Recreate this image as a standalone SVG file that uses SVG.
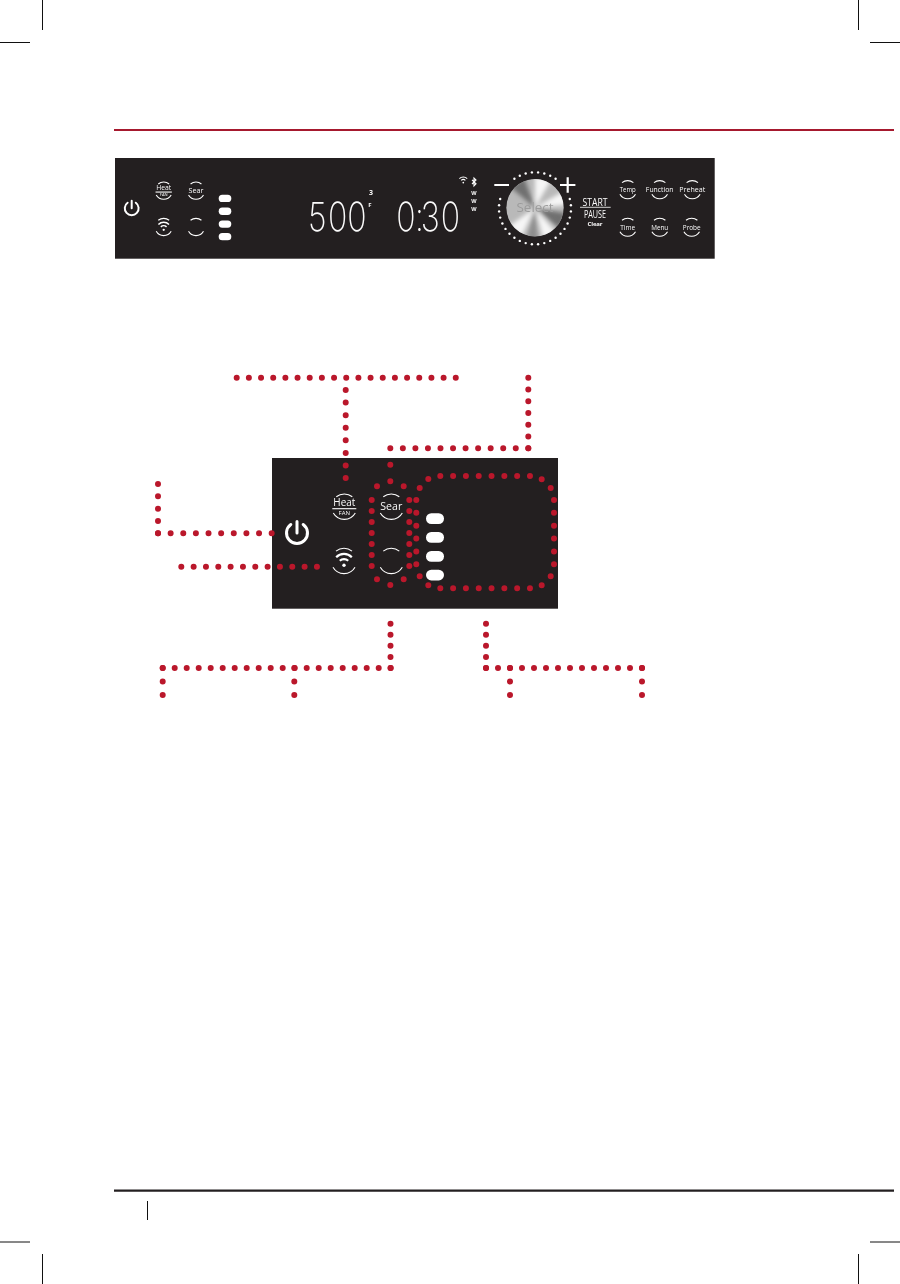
<svg xmlns="http://www.w3.org/2000/svg" width="900" height="1284" viewBox="0 0 900 1284">
<style>
text{font-family:"Open Sans","Liberation Sans",sans-serif;fill:#fff;text-anchor:middle;opacity:.98}
.crop{stroke:#111;stroke-width:1;fill:none}
.a{fill:none;stroke:#fff;stroke-width:1.1;vector-effect:non-scaling-stroke}
.w{fill:none;stroke:#fff;stroke-width:2.2}
.p{fill:#231f20}
.dot{fill:none;stroke:#ba172b;stroke-width:6;stroke-linecap:round}
.r{fill:#fff}
.pw{fill:none;stroke:#fff;stroke-width:3;stroke-linecap:round}
.seg{font-family:Inter,"Liberation Sans",sans-serif;font-weight:200;font-size:40px;text-anchor:start}
</style>
<defs>
<g id="arcs"><path class="a" d="M-8-9.9A12.7 12.7 0 0 1 8-9.9M-11 6.3A12.7 12.7 0 0 0 11 6.3"/></g>
<g id="wifi"><path class="w" d="M-4.2-.2A6 6 0 0 1 4.2-.2M-7.8-3.8A11 11 0 0 1 7.8-3.8"/><circle class="r" cy="4.2" r="1.7"/></g>
<g id="power"><path class="pw" d="M0-11.5V0M-6.2-8.5A10.5 10.5 0 1 0 6.2-8.5"/></g>
<clipPath id="kc"><circle r="28.7"/></clipPath>
<filter id="bl" x="-30%" y="-30%" width="160%" height="160%"><feGaussianBlur stdDeviation="2.2"/></filter>
</defs>
<rect width="900" height="1284" fill="#fff"/>
<g id="page-marks">
<path class="crop" d="M42.5 0V30M0 42.5H30M858.5 0V30M870 42.5H900M0 1242H30M42.5 1254V1284M870 1242H900M858.5 1254V1284M147.5 1201V1220"/>
<path d="M114 130H894" stroke="#a6192e" stroke-width="2.2"/>
<path d="M114 1190.7H894" stroke="#231f20" stroke-width="2.2"/>
</g>
<g id="panel-full">
<rect class="p" x="115" y="158" width="599.7" height="100.7"/>
<g id="s-power" transform="translate(131.7 208.3) scale(.66)"><use href="#power"/></g>
<g id="s-heat" transform="translate(163.7 190.7) scale(.68)"><use href="#arcs"/><text y="-1" font-size="10.5" textLength="22" lengthAdjust="spacingAndGlyphs">Heat</text><path class="a" d="M-12 2H12"/><text y="8.5" font-size="6">FAN</text></g>
<g id="s-sear" transform="translate(196 190.7) scale(.68)"><use href="#arcs"/><text y="3.5" font-size="11.5" textLength="22" lengthAdjust="spacingAndGlyphs">Sear</text></g>
<g id="s-wifi" transform="translate(163.7 227) scale(.68)"><use href="#arcs"/><use href="#wifi"/></g>
<g id="s-blank" transform="translate(196 227) scale(.68)"><use href="#arcs"/></g>
<g id="s-pills">
<rect class="r" x="218.7" y="194.7" width="12.6" height="7.3" rx="3.6"/>
<rect class="r" x="218.7" y="207.6" width="12.6" height="7.3" rx="3.6"/>
<rect class="r" x="218.7" y="220.4" width="12.6" height="7.3" rx="3.6"/>
<rect class="r" x="218.7" y="233" width="12.6" height="7.3" rx="3.6"/>
</g>
<g id="display">
<text class="seg" transform="translate(0 230.7) scale(.8 1)" x="385 410 434">500</text>
<text x="370" y="207" font-size="6" font-weight="700">F</text>
<text x="371" y="195.4" font-size="7" font-weight="700">3</text>
<text class="seg" transform="translate(0 230.7) scale(.8 1)" x="495.4 518.7 525.9 551">0:30</text>
</g>
<g id="status">
<g transform="translate(463.3 180.5) scale(.5)"><use href="#wifi"/></g>
<path d="M472 179.8L476 183.8 474 185.8V178L476 180 472 184" fill="none" stroke="#fff" stroke-width="1.1"/>
<text x="474" y="194.6" font-size="5.5" font-weight="700">W</text>
<text x="474" y="202.6" font-size="5.5" font-weight="700">W</text>
<text x="474" y="211.2" font-size="5.5" font-weight="700">W</text>
</g>
<g id="dial">
<path d="M494.3 185H509M560 185H575.4M567.7 177.3V192.7" stroke="#fff" stroke-width="2.2" fill="none"/>
<g transform="translate(535 208.3)" class="r">
<circle cx="3.1" cy="-35.9" r="1.2"/><circle cx="9.3" cy="-34.8" r="1.2"/><circle cx="15.2" cy="-32.6" r="1.2"/><circle cx="20.6" cy="-29.5" r="1.2"/>
<circle cx="-3.1" cy="-35.9" r="1.2"/><circle cx="-9.3" cy="-34.8" r="1.2"/><circle cx="-15.2" cy="-32.6" r="1.2"/><circle cx="-20.6" cy="-29.5" r="1.2"/>
<circle cx="34.8" cy="-9.3" r="1.2"/><circle cx="35.9" cy="-3.1" r="1.2"/><circle cx="35.9" cy="3.1" r="1.2"/><circle cx="34.8" cy="9.3" r="1.2"/><circle cx="32.6" cy="15.2" r="1.2"/><circle cx="29.5" cy="20.6" r="1.2"/><circle cx="25.5" cy="25.5" r="1.2"/><circle cx="20.6" cy="29.5" r="1.2"/><circle cx="15.2" cy="32.6" r="1.2"/><circle cx="9.3" cy="34.8" r="1.2"/><circle cx="3.1" cy="35.9" r="1.2"/>
<circle cx="-34.8" cy="-9.3" r="1.2"/><circle cx="-35.9" cy="-3.1" r="1.2"/><circle cx="-35.9" cy="3.1" r="1.2"/><circle cx="-34.8" cy="9.3" r="1.2"/><circle cx="-32.6" cy="15.2" r="1.2"/><circle cx="-29.5" cy="20.6" r="1.2"/><circle cx="-25.5" cy="25.5" r="1.2"/><circle cx="-20.6" cy="29.5" r="1.2"/><circle cx="-15.2" cy="32.6" r="1.2"/><circle cx="-9.3" cy="34.8" r="1.2"/><circle cx="-3.1" cy="35.9" r="1.2"/>
</g>
<g transform="translate(535 207.8)">
<g clip-path="url(#kc)">
<circle r="29" fill="#b9b9b9"/>
<g filter="url(#bl)">
<path fill="#f6f6f6" d="M0 0L0-32 16-27.7ZM0 0L27.7-16 31.9-2.8ZM0 0L20.6 24.5 8.3 30.9ZM0 0L-13.5 29-26.2 18.4Z"/>
<path fill="#6f6f6f" d="M0 0L31.5 5.6 24.5 20.6ZM0 0L-24.5-20.6-10.9-30.1Z"/>
<path fill="#8d8d8d" d="M0 0L2.8 31.9-8.3 30.9Z"/>
</g>
</g>
<text y="4.5" font-size="13" textLength="37" lengthAdjust="spacingAndGlyphs" style="fill:#9c9c9c">Select</text>
</g>
</g>
<g id="start-pause">
<text x="595" y="205.7" font-size="11.5" textLength="25" lengthAdjust="spacingAndGlyphs">START</text>
<path d="M580 207.3H610.7" stroke="#fff" stroke-width=".8"/>
<text x="595" y="217.5" font-size="10.5" textLength="22" lengthAdjust="spacingAndGlyphs">PAUSE</text>
<text x="595" y="226" font-size="6" font-weight="700" textLength="15">Clear</text>
</g>
<g id="s-temp" transform="translate(627.7 189.7) scale(.71)"><use href="#arcs"/><text y="3.5" font-size="11" textLength="22.5" lengthAdjust="spacingAndGlyphs">Temp</text></g>
<g id="s-function" transform="translate(659.7 189.7) scale(.71)"><use href="#arcs"/><text y="3.5" font-size="11" textLength="39" lengthAdjust="spacingAndGlyphs">Function</text></g>
<g id="s-preheat" transform="translate(692.3 189.7) scale(.71)"><use href="#arcs"/><text y="3.5" font-size="11" textLength="36.6" lengthAdjust="spacingAndGlyphs">Preheat</text></g>
<g id="s-time" transform="translate(627.7 227.3) scale(.71)"><use href="#arcs"/><text y="3.5" font-size="11" textLength="21" lengthAdjust="spacingAndGlyphs">Time</text></g>
<g id="s-menu" transform="translate(659.7 227.3) scale(.71)"><use href="#arcs"/><text y="3.5" font-size="11" textLength="24" lengthAdjust="spacingAndGlyphs">Menu</text></g>
<g id="s-probe" transform="translate(691.7 227.3) scale(.71)"><use href="#arcs"/><text y="3.5" font-size="11" textLength="25" lengthAdjust="spacingAndGlyphs">Probe</text></g>
</g>
<rect id="panel-detail" class="p" x="272" y="458" width="286" height="150.7"/>
<g id="connectors" class="dot">
<path stroke-dasharray="0 12.17" d="M236.7 377.7H455.9"/>
<path stroke-dasharray="0 12.58" d="M345.7 390V478.2"/>
<path stroke-dasharray="0 11.77" d="M528.3 377.7V448.4"/>
<path stroke-dasharray="0 12.545" d="M528.3 448.3H390.2"/>
<path stroke-dasharray="0 16.6" d="M390.3 464.7V481.4"/>
<path stroke-dasharray="0 12.33" d="M158 484V533.4"/>
<path stroke-dasharray="0 12.63" d="M158 533.3H271.8"/>
<path stroke-dasharray="0 12.33" d="M181.3 566.7H317.1"/>
<path stroke-dasharray="0 11.08" d="M390.5 623.7V668.1"/>
<path stroke-dasharray="0 12" d="M162.7 668H390.8"/>
<path stroke-dasharray="0 13.5" d="M162.7 668V695.1M294.3 668V695.1"/>
<path stroke-dasharray="0 11.08" d="M486 623.7V668.1"/>
<path stroke-dasharray="0 12" d="M486 668H642.1"/>
<path stroke-dasharray="0 13.5" d="M510 668V695.1M642 668V695.1"/>
<g id="outline-sear">
<path stroke-dasharray="0 11" d="M371.7 500V566.1M409.3 500V566.1"/>
<path d="M377 486.3h0M403.7 486.3h0M377 579.3h0M403.7 579.3h0M390.3 585h0"/>
</g>
<g id="outline-modes">
<path stroke-dasharray="0 12.81" d="M440.3 476H530.1M440.3 588.3H530.1"/>
<path stroke-dasharray="0 12.87" d="M554 500V564.4M416.3 500V564.4"/>
<path d="M428.3 479h0M541.7 479.3h0M550.7 488h0M419.7 488h0M419.7 576.3h0M550.7 576.3h0M428.3 585.3h0M541.7 585.3h0"/>
</g>
</g>
<g id="d-power" transform="translate(297 533)"><use href="#power"/></g>
<g id="d-heat" transform="translate(344.3 506.7)"><use href="#arcs"/><text y="-1" font-size="10.5" textLength="22" lengthAdjust="spacingAndGlyphs">Heat</text><path class="a" d="M-12 2H12"/><text y="8.5" font-size="6">FAN</text></g>
<g id="d-sear" transform="translate(391.3 506.7)"><use href="#arcs"/><text y="3.5" font-size="11.5" textLength="22" lengthAdjust="spacingAndGlyphs">Sear</text></g>
<g id="d-wifi" transform="translate(344 561)"><use href="#arcs"/><use href="#wifi"/></g>
<g id="d-blank" transform="translate(391.3 561)"><use href="#arcs"/></g>
<g id="d-pills">
<rect class="r" x="426" y="513.3" width="18" height="10.7" rx="5.3"/>
<rect class="r" x="426" y="532" width="18" height="10.7" rx="5.3"/>
<rect class="r" x="426" y="551" width="18" height="10.7" rx="5.3"/>
<rect class="r" x="426" y="569.7" width="18" height="10.7" rx="5.3"/>
</g>
</svg>
